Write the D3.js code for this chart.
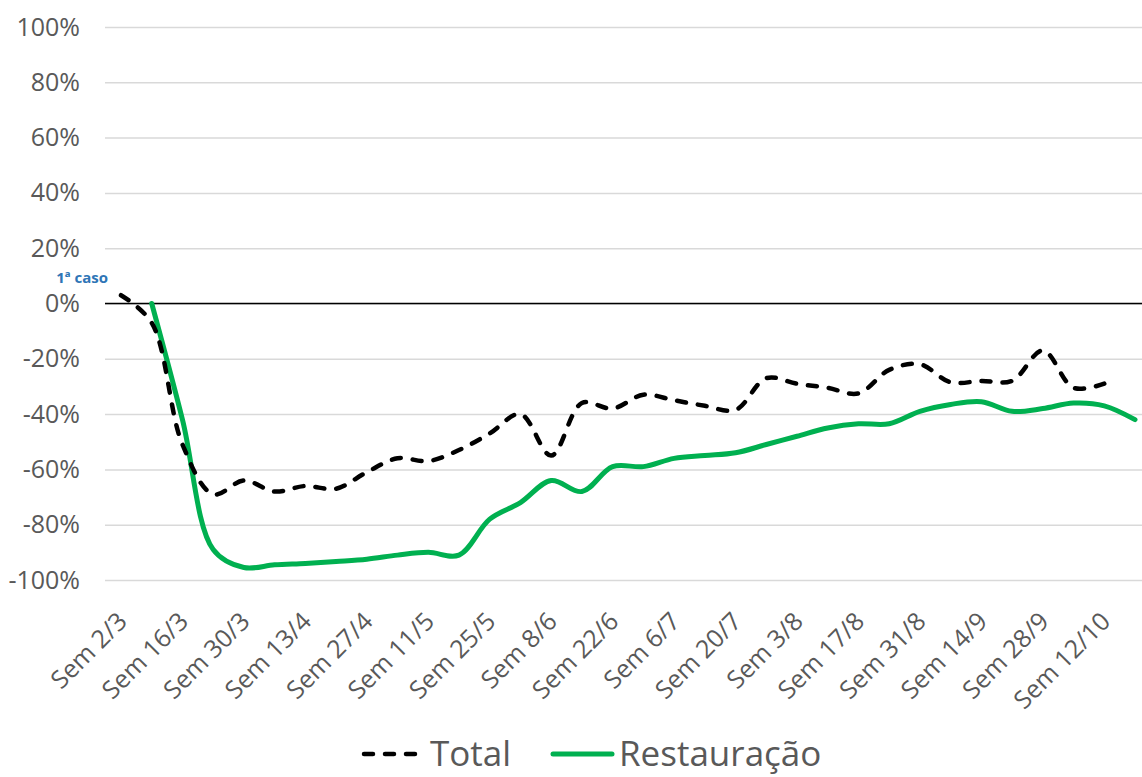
<!DOCTYPE html>
<html>
<head>
<meta charset="utf-8">
<script src="https://cdn.jsdelivr.net/npm/d3@7"></script>
<style>
  body { margin: 0; background: #fff; }
  svg { display: block; font-family: "Open Sans", sans-serif; }
</style>
</head>
<body>
<svg id="viz"></svg>
<script>
const width = 1142;
const height = 777;
const svg = d3.select("#viz").attr("width", width).attr("height", height);

// weeks (Mondays) from 2/3 to 19/10
const weeks = ["2/3", "9/3", "16/3", "23/3", "30/3", "6/4", "13/4", "20/4", "27/4", "4/5",
  "11/5", "18/5", "25/5", "1/6", "8/6", "15/6", "22/6", "29/6", "6/7", "13/7",
  "20/7", "27/7", "3/8", "10/8", "17/8", "24/8", "31/8", "7/9", "14/9", "21/9",
  "28/9", "5/10", "12/10", "19/10"];
const tickWeeks = weeks.filter((d, i) => i % 2 === 0);

const total = [3, -7, -51, -69, -64, -68, -66, -67, -61, -56,
  -57, -53, -47, -40, -55, -36, -38, -33, -35, -37,
  -38.5, -27, -29, -30.5, -32.5, -24, -22, -28.5, -28, -28,
  -17, -30.5, -29, null];
const restauracao = [null, 0, -42, -89, -95.5, -94.5, -94, -93.3, -92.5, -91,
  -90, -91, -78, -72, -64, -68, -59, -59, -56, -55,
  -54, -51, -48, -45, -43.5, -43.5, -39, -36.5, -35.5, -39,
  -38, -36, -37, -42];
const yTicks = [-100, -80, -60, -40, -20, 0, 20, 40, 60, 80, 100];

const plotLeft = 105, plotRight = 1142;
const x = d3.scalePoint().domain(weeks).range([121, 1135]);
const y = d3.scaleLinear().domain([-100, 100]).range([580, 27]);

// gridlines + y labels
const yAxis = svg.append("g")
  .attr("transform", `translate(${plotLeft},0)`)
  .call(d3.axisLeft(y).tickValues(yTicks).tickSize(-(plotRight - plotLeft)).tickPadding(25)
    .tickFormat(d => d + "%"));
yAxis.select(".domain").remove();
yAxis.selectAll("line").attr("stroke", "#d9d9d9").attr("stroke-width", 1.5);
yAxis.selectAll("text").attr("font-size", 25).attr("fill", "#595959")
  .attr("font-family", "'Open Sans', sans-serif");

// zero line
svg.append("line")
  .attr("x1", plotLeft).attr("x2", plotRight)
  .attr("y1", y(0)).attr("y2", y(0))
  .attr("stroke", "#000").attr("stroke-width", 1.5);

// x labels
const xAxis = svg.append("g")
  .attr("transform", `translate(0,${y(-100)})`)
  .call(d3.axisBottom(x).tickValues(tickWeeks).tickSize(0).tickFormat(d => "Sem " + d));
xAxis.select(".domain").remove();
xAxis.selectAll("text")
  .attr("x", 0).attr("y", 0).attr("dy", 0)
  .attr("text-anchor", "end")
  .attr("transform", "translate(7,43) rotate(-45)")
  .attr("font-size", 25).attr("fill", "#595959")
  .attr("font-family", "'Open Sans', sans-serif");

const line = d3.line()
  .defined(d => d != null)
  .x((d, i) => x(weeks[i]))
  .y(d => y(d))
  .curve(d3.curveCatmullRom.alpha(0.5));

svg.append("path")
  .datum(restauracao)
  .attr("d", line)
  .attr("fill", "none")
  .attr("stroke", "#00b050")
  .attr("stroke-width", 5)
  .attr("stroke-linecap", "round");

svg.append("path")
  .datum(total)
  .attr("d", line)
  .attr("fill", "none")
  .attr("stroke", "#000")
  .attr("stroke-width", 4.5)
  .attr("stroke-dasharray", "9,12")
  .attr("stroke-linecap", "round");

// annotation
svg.append("text")
  .attr("x", 108).attr("y", 283)
  .attr("text-anchor", "end")
  .attr("font-size", 15).attr("font-weight", "bold")
  .attr("fill", "#2e75b6")
  .text("1ª caso");

// legend
const legend = svg.append("g");
legend.append("line")
  .attr("x1", 364).attr("x2", 416).attr("y1", 754).attr("y2", 754)
  .attr("stroke", "#000").attr("stroke-width", 4.5)
  .attr("stroke-dasharray", "9,12").attr("stroke-linecap", "round");
legend.append("text")
  .attr("x", 430).attr("y", 766)
  .attr("font-size", 35).attr("fill", "#595959")
  .text("Total");
legend.append("line")
  .attr("x1", 553).attr("x2", 612).attr("y1", 754).attr("y2", 754)
  .attr("stroke", "#00b050").attr("stroke-width", 5).attr("stroke-linecap", "round");
legend.append("text")
  .attr("x", 619).attr("y", 766)
  .attr("font-size", 35).attr("fill", "#595959")
  .text("Restauração");
</script>
</body>
</html>
